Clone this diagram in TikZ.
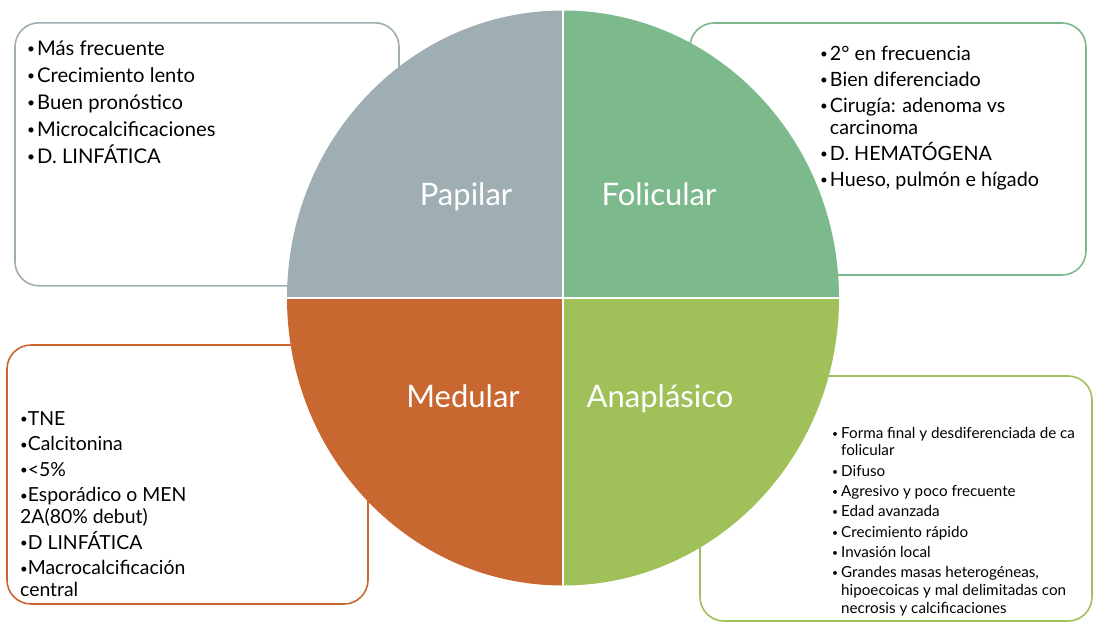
\documentclass[tikz,border=0pt]{standalone}
\usepackage{fontspec}
\setmainfont{Lato}
\usetikzlibrary{positioning}
\definecolor{papgray}{HTML}{9EAEB3}
\definecolor{folgreen}{HTML}{7CB98D}
\definecolor{medorange}{HTML}{C8672F}
\definecolor{anagreen}{HTML}{A0C05A}
\newcommand{\bul}{\raisebox{0.07em}{\scalebox{0.68}{•}}}

\begin{document}
\begin{tikzpicture}[
    x=1pt, y=-1pt,
    infobox/.style={draw, line width=1.6pt, rounded corners=24pt, fill=white, inner sep=0pt},
    itemtext/.style={anchor=north west, inner sep=0pt, align=left, text=black},
    quadname/.style={anchor=base, text=white, font=\fontsize{31}{36}\selectfont},
    divider/.style={white, line width=2.6pt}
  ]
    \useasboundingbox (0,0) rectangle (1094,622);

    % Boxes behind the circle
    \node[infobox, draw=papgray, minimum width=384pt, minimum height=263pt] (papbox) at (207,154.3) {};
    \node[infobox, draw=folgreen, minimum width=396pt, minimum height=252pt] (folbox) at (888,149) {};
    \node[infobox, draw=medorange, minimum width=361pt, minimum height=259pt] (medbox) at (187.5,474.5) {};
    \node[infobox, draw=anagreen, minimum width=392pt, minimum height=245pt] (anabox) at (896,498.5) {};

    % Circle in four quarters
    \coordinate (ctr) at (563,298);
    \fill[papgray] (ctr) -- ++(-276,0) arc[start angle=180, end angle=270, x radius=276, y radius=287.5] -- cycle;
    \fill[folgreen] (ctr) -- ++(0,-287.5) arc[start angle=270, end angle=360, x radius=276, y radius=287.5] -- cycle;
    \fill[anagreen] (ctr) -- ++(276,0) arc[start angle=0, end angle=90, x radius=276, y radius=287.5] -- cycle;
    \fill[medorange] (ctr) -- ++(0,287.5) arc[start angle=90, end angle=180, x radius=276, y radius=287.5] -- cycle;
    \coordinate (ctop) at (563,9);
    \coordinate (cbot) at (563,587);
    \coordinate (cleft) at (286,298);
    \coordinate (cright) at (840,298);
    \draw[divider] (ctop) -- (cbot);
    \draw[divider] (cleft) -- (cright);

    % Quarter names
    \node[quadname] (papilar) at (466,205.7) {Papilar};
    \node[quadname] (folicular) at (659,205.7) {Folicular};
    \node[quadname] (medular) at (463,407) {Medular};
    \node[quadname] (anaplasico) at (660,407) {Anaplásico};

    % Box texts
    \node[itemtext, font=\fontsize{20.2}{27}\selectfont] (paptext) at (27,36.1) {\strut\bul\kern2pt Más frecuente\\
      \bul\kern2pt Crecimiento lento\\
      \bul\kern2pt Buen pronóstico\\
      \bul\kern2pt Microcalcificaciones\\
      \bul\kern2pt D. LINFÁTICA};
    \node[itemtext, font=\fontsize{19.7}{22}\selectfont] (foltext) at (820,44.6) {\strut\bul\kern2pt 2° en frecuencia\\[4pt]
      \bul\kern2pt Bien diferenciado\\[4pt]
      \bul\kern2pt Cirugía: adenoma vs\\
      \hphantom{\bul\kern2pt}carcinoma\\[4pt]
      \bul\kern2pt D. HEMATÓGENA\\[4pt]
      \bul\kern2pt Hueso, pulmón e hígado};
    \node[itemtext, font=\fontsize{19.4}{22}\selectfont] (medtext) at (20,409.6) {\strut\bul TNE\\[3.5pt]
      \bul Calcitonina\\[3.5pt]
      \bul<5\%\\[3.5pt]
      \bul Esporádico o MEN\\
      2A(80\% debut)\\[3.5pt]
      \bul D LINFÁTICA\\[3.5pt]
      \bul Macrocalcificación\\
      central};
    \node[itemtext, font=\fontsize{15.2}{17.7}\selectfont] (anatext) at (832,425.6) {\strut\bul\kern3pt Forma final y desdiferenciada de ca\\
      \hphantom{\bul\kern3pt}folicular\\[2.6pt]
      \bul\kern3pt Difuso\\[2.6pt]
      \bul\kern3pt Agresivo y poco frecuente\\[2.6pt]
      \bul\kern3pt Edad avanzada\\[2.6pt]
      \bul\kern3pt Crecimiento rápido\\[2.6pt]
      \bul\kern3pt Invasión local\\[2.6pt]
      \bul\kern3pt Grandes masas heterogéneas,\\
      \hphantom{\bul\kern3pt}hipoecoicas y mal delimitadas con\\
      \hphantom{\bul\kern3pt}necrosis y calcificaciones};
  \end{tikzpicture}
\end{document}
